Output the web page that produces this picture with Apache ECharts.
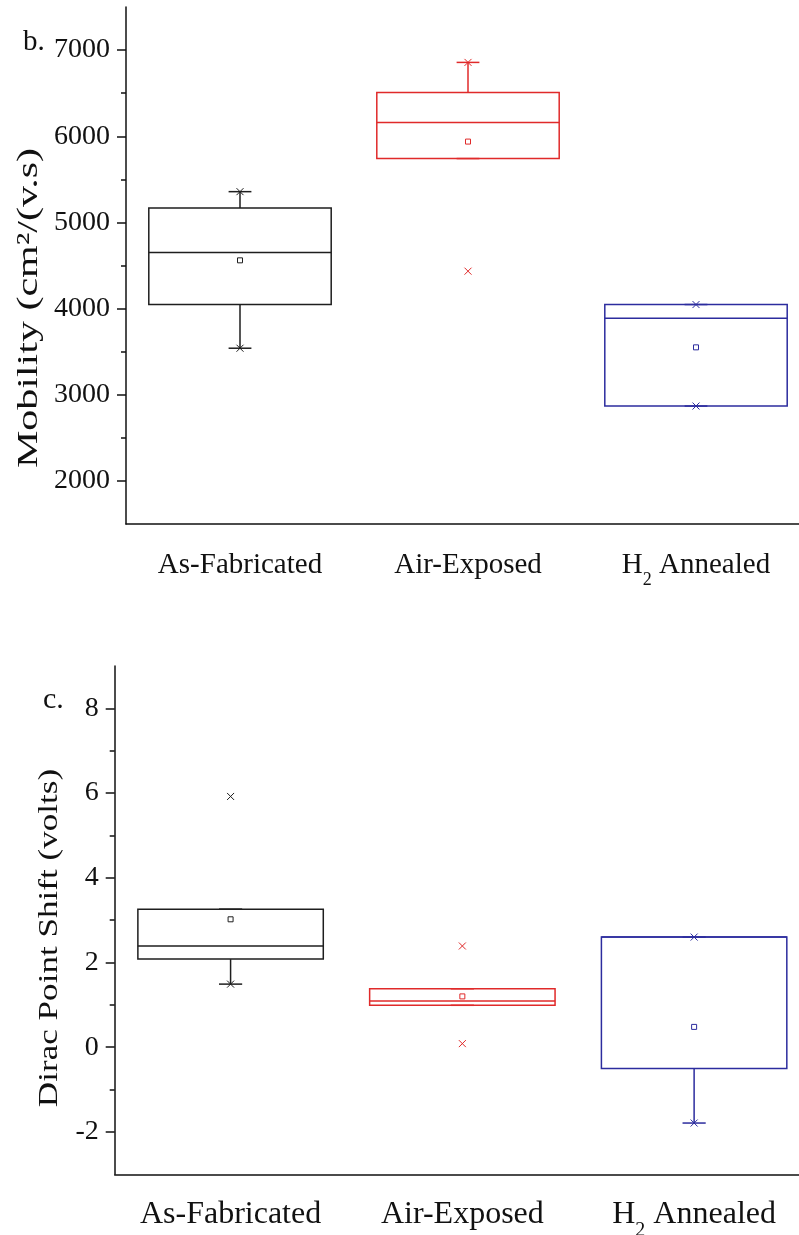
<!DOCTYPE html>
<html><head><meta charset="utf-8">
<script src="https://cdn.jsdelivr.net/npm/echarts@6/dist/echarts.min.js"></script>
<style>html,body{margin:0;padding:0;background:#fff}#c{width:799px;height:1235px}</style>
</head><body><div id="c"></div>
<script>
// ---- data ----
const categories = ['As-Fabricated', 'Air-Exposed', 'H2 Annealed'];
const boxColors = ['#1e1e1e', '#e02a2a', '#2c2c9e'];
// [whiskerLow, Q1, median, Q3, whiskerHigh]
const mobilityBoxes = [[3540, 4047, 4651, 5166, 5357], [5741, 5741, 6159, 6508, 6857], [2869, 2869, 3887, 4047, 4047]];
const mobilityMeans = [4560, 5938, 3550];
const mobilityMarks = [[5357, 3540], [6857, 4434], [4047, 2869]];
const mobilityTicks = [2000, 3000, 4000, 5000, 6000, 7000];
const mobilityMinor = [2500, 3500, 4500, 5500, 6500];
const diracBoxes = [[1.49, 2.08, 2.39, 3.26, 3.26], [0.99, 0.99, 1.09, 1.38, 1.38], [-1.79, -0.5, 2.6, 2.6, 2.6]];
const diracMeans = [3.02, 1.2, 0.48];
const diracMarks = [[5.92, 1.49], [2.39, 0.085], [2.6, -1.79]];
const diracTicks = [-2, 0, 2, 4, 6, 8];
const diracMinor = [-1, 1, 3, 5, 7];

// ---- helpers ----
const FONT = '"Liberation Serif", "Times New Roman", serif';
const AX = '#111';

function boxRender(params, api) {
  const i = api.value(0);
  const v = [1, 2, 3, 4, 5].map(k => api.coord([i, api.value(k)])[1]);
  const ym = api.coord([i, api.value(6)])[1];
  const x = api.coord([i, api.value(1)])[0];
  const bw = api.size([1, 0])[0];
  const half = bw * 0.4, cap = bw * 0.05;
  const st = { stroke: boxColors[i], lineWidth: 1.5, fill: null };
  const line = (x1, y1, x2, y2) => ({ type: 'line', shape: { x1, y1, x2, y2 }, style: st });
  return {
    type: 'group',
    children: [
      line(x, v[1], x, v[0]),
      line(x, v[3], x, v[4]),
      line(x - cap, v[0], x + cap, v[0]),
      line(x - cap, v[4], x + cap, v[4]),
      { type: 'rect', shape: { x: x - half, y: v[3], width: 2 * half, height: v[1] - v[3] }, style: st },
      line(x - half, v[2], x + half, v[2]),
      { type: 'rect', shape: { x: x - 2.5, y: ym - 2.5, width: 5, height: 5 }, style: { stroke: boxColors[i], lineWidth: 1, fill: null } }
    ]
  };
}
function markRender(params, api) {
  const i = api.value(0);
  const p = api.coord([i, api.value(1)]);
  const s = 3.5;
  const st = { stroke: boxColors[i], lineWidth: 1 };
  return {
    type: 'group',
    children: [
      { type: 'line', shape: { x1: p[0] - s, y1: p[1] - s, x2: p[0] + s, y2: p[1] + s }, style: st },
      { type: 'line', shape: { x1: p[0] - s, y1: p[1] + s, x2: p[0] + s, y2: p[1] - s }, style: st }
    ]
  };
}
function labelFmt(v) {
  if (v === 'H2 Annealed') return '{a|H}{s|2}{a| Annealed}';
  return '{a|' + v + '}';
}
function xAxisCfg(grid, fs, subFs, subPad, margin) {
  return {
    type: 'category', gridIndex: grid, data: categories, boundaryGap: true,
    axisLine: { onZero: false, lineStyle: { color: AX, width: 1.5 } },
    axisTick: { alignWithLabel: true, length: 9, lineStyle: { color: AX, width: 1.5 } },
    axisLabel: {
      formatter: labelFmt, margin: margin, verticalAlign: 'top',
      rich: {
        a: { fontFamily: FONT, fontSize: fs, color: '#111', lineHeight: fs + 5, verticalAlign: 'top' },
        s: { fontFamily: FONT, fontSize: subFs, color: '#111', lineHeight: subFs + 1, padding: [subPad, 0, 0, 0], verticalAlign: 'top' }
      }
    },
    splitLine: { show: false }
  };
}
function yAxesCfg(grid, min, max, ticks, minor, fs) {
  return [
    {
      type: 'value', gridIndex: grid, min, max, position: 'left',
      splitLine: { show: false },
      axisLine: { show: true, lineStyle: { color: AX, width: 1.5 } },
      axisTick: { show: true, customValues: ticks, length: 9, lineStyle: { color: AX, width: 1.5 } },
      axisLabel: { customValues: ticks, formatter: v => String(v), fontFamily: FONT, fontSize: fs, color: '#111', margin: 16 }
    },
    {
      type: 'value', gridIndex: grid, min, max, position: 'left', offset: 0,
      splitLine: { show: false },
      axisLine: { show: false },
      axisTick: { show: true, customValues: minor, length: 5, lineStyle: { color: AX, width: 1.5 } },
      axisLabel: { show: false }
    }
  ];
}

const chart = echarts.init(document.getElementById('c'), null, { renderer: 'canvas' });
chart.setOption({
  backgroundColor: '#fff',
  animation: false,
  grid: [
    { left: 126, top: 7, right: -11, bottom: 711, containLabel: false, outerBoundsMode: 'none' },
    { left: 114.7, top: 666, right: -11, bottom: 60.7, containLabel: false, outerBoundsMode: 'none' }
  ],
  xAxis: [xAxisCfg(0, 29, 18, 20, 27), xAxisCfg(1, 32, 20, 22, 24)],
  yAxis: [].concat(
    yAxesCfg(0, 1500, 7500, mobilityTicks, mobilityMinor, 28),
    yAxesCfg(1, -3, 9, diracTicks, diracMinor, 28)
  ),
  series: [
    {
      type: 'custom', xAxisIndex: 0, yAxisIndex: 0, renderItem: boxRender,
      encode: { x: 0, y: [1, 2, 3, 4, 5] },
      data: mobilityBoxes.map((b, i) => [i].concat(b, [mobilityMeans[i]]))
    },
    {
      type: 'custom', xAxisIndex: 0, yAxisIndex: 0, renderItem: markRender,
      encode: { x: 0, y: 1 },
      data: mobilityMarks.flatMap((m, i) => m.map(v => [i, v]))
    },
    {
      type: 'custom', xAxisIndex: 1, yAxisIndex: 2, renderItem: boxRender,
      encode: { x: 0, y: [1, 2, 3, 4, 5] },
      data: diracBoxes.map((b, i) => [i].concat(b, [diracMeans[i]]))
    },
    {
      type: 'custom', xAxisIndex: 1, yAxisIndex: 2, renderItem: markRender,
      encode: { x: 0, y: 1 },
      data: diracMarks.flatMap((m, i) => m.map(v => [i, v]))
    }
  ],
  graphic: [
    { type: 'text', x: 23, y: 42, style: { text: 'b.', font: '29px ' + FONT, fill: '#111', align: 'left', verticalAlign: 'middle' } },
    { type: 'text', x: 43, y: 700, style: { text: 'c.', font: '30px ' + FONT, fill: '#111', align: 'left', verticalAlign: 'middle' } },
    { type: 'text', x: 29, y: 308, rotation: Math.PI / 2, scaleX: 1.4, style: { text: 'Mobility (cm²/(v.s)', font: '30px ' + FONT, fill: '#111', align: 'center', verticalAlign: 'middle' } },
    { type: 'text', x: 50, y: 938, rotation: Math.PI / 2, scaleX: 1.3, style: { text: 'Dirac Point Shift (volts)', font: '27px ' + FONT, fill: '#111', align: 'center', verticalAlign: 'middle' } }
  ]
});
</script>
</body></html>
